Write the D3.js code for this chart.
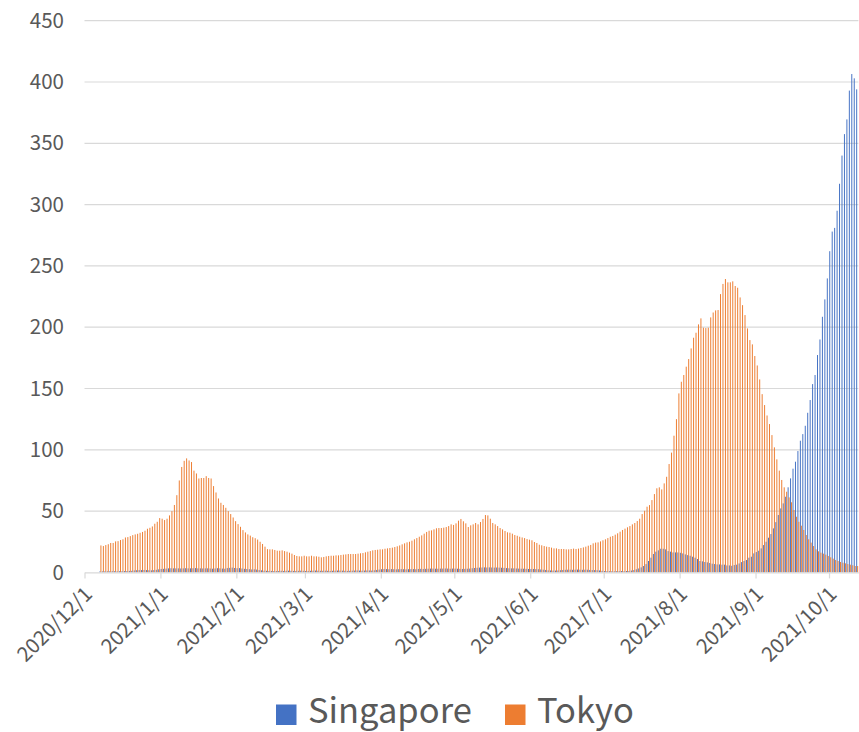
<!DOCTYPE html>
<html>
<head>
<meta charset="utf-8">
<script src="https://cdn.jsdelivr.net/npm/d3@7"></script>
<style>
  body { margin: 0; background: #fff; }
  svg text { font-family: "Noto Sans CJK JP", "Noto Sans", sans-serif; fill: #595959; }
</style>
</head>
<body>
<div class="chart"></div>
<script>
//日期范围 (每天一个类别)
let startDate = '2020-12-01'
let endDate = '2021-10-12'
let seriesNames = ['Singapore', 'Tokyo']
let seriesColors = ['#4472C4', '#ED7D31']
let yTicks = [0, 50, 100, 150, 200, 250, 300, 350, 400, 450]
let xTickLabels = ['2020/12/1', '2021/1/1', '2021/2/1', '2021/3/1', '2021/4/1', '2021/5/1',
  '2021/6/1', '2021/7/1', '2021/8/1', '2021/9/1', '2021/10/1']

//Singapore, 12/1 起
let singapore = [null, null, null, null, null, null,
  0.8, 0.8, 0.9, 0.9, 0.9, 1.0, 1.0, 0.9, 0.9, 1.0,
  1.1, 1.1, 1.2, 1.3, 1.6, 1.8, 1.9, 1.9, 2.0, 1.9,
  1.8, 1.7, 1.9, 2.1, 2.5, 2.8, 2.9, 3.1, 3.3, 3.4,
  3.3, 3.3, 3.3, 3.2, 3.3, 3.4, 3.3, 3.3, 3.4, 3.5,
  3.3, 3.3, 3.2, 3.3, 3.3, 3.2, 3.0, 3.2, 3.4, 3.3,
  3.1, 3.0, 3.5, 3.7, 3.9, 3.6, 3.4, 3.5, 3.2, 2.9,
  2.8, 2.6, 2.4, 2.5, 2.3, 1.9, 1.7, 1.4, 1.3, 1.2,
  1.2, 1.1, 1.1, 1.2, 1.3, 1.2, 1.3, 1.4, 1.3, 1.2,
  1.2, 1.3, 1.4, 1.3, 1.2, 1.2, 1.3, 1.4, 1.5, 1.4,
  1.3, 1.3, 1.4, 1.3, 1.2, 1.3, 1.4, 1.5, 1.5, 1.4,
  1.3, 1.2, 1.3, 1.4, 1.5, 1.6, 1.5, 1.4, 1.5, 1.6,
  1.6, 1.5, 1.7, 2.0, 2.3, 2.6, 2.8, 2.7, 2.6, 2.7,
  2.6, 2.5, 2.6, 2.7, 2.6, 2.5, 2.6, 2.7, 2.7, 2.6,
  2.8, 2.9, 2.8, 2.9, 3.0, 3.1, 3.1, 3.0, 3.0, 3.1,
  3.1, 3.2, 3.1, 3.0, 3.1, 3.1, 3.0, 2.9, 2.8, 2.9,
  3.0, 3.1, 3.4, 3.6, 3.8, 3.9, 4.0, 4.1, 4.0, 4.1,
  4.0, 3.9, 4.0, 3.9, 3.8, 3.7, 3.5, 3.4, 3.3, 3.3,
  3.2, 3.1, 3.0, 3.0, 2.9, 2.8, 2.8, 2.8, 2.7, 2.6,
  2.4, 2.2, 2.0, 1.7, 1.6, 1.5, 1.5, 1.6, 1.8, 2.0,
  2.1, 2.2, 2.2, 2.1, 2.2, 2.3, 2.2, 2.1, 2.2, 2.2,
  2.0, 1.9, 1.9, 1.8, 1.6, 1.3, 1.1, 1.0, 1.0, 0.9,
  0.9, 1.0, 1.0, 1.1, 1.0, 1.1, 1.2, 1.5, 1.9, 2.5,
  3.2, 4.1, 5.2, 6.8, 9.3, 12, 15, 16.9, 18, 19.3,
  19.3, 18.8, 17.4, 16.9, 16.3, 16.3, 16.3, 16, 15.5, 14.7,
  14.1, 13.6, 12.8, 12, 10.9, 9.3, 9, 8.5, 8.2, 7.7,
  7.1, 6.8, 6.5, 6.5, 6.3, 6.3, 5.7, 5.7, 5.4, 6,
  6.3, 7.3, 8.4, 9.3, 10.1, 12, 12.8, 15.5, 16.6, 17.7,
  19.6, 22.3, 25, 28.3, 31.3, 35.9, 41, 46.8, 52.2, 56.3,
  61.7, 69.4, 76.7, 84.6, 90.3, 99, 107.4, 112.8, 119.6, 130.2,
  140.6, 153.6, 161, 177.3, 190, 208.5, 222.7, 239.8, 262, 278,
  281, 295, 317, 340, 357.5, 369.5, 393, 406.5, 403, 394]

//Tokyo, 12/1 起
let tokyo = [null, null, null, null, null, null,
  22, 21.5, 22.3, 23, 24, 24, 25.3, 25.5, 26.4, 27,
  28.5, 28.8, 29.6, 30.4, 31, 31.5, 32.3, 33, 34, 35.6,
  36.4, 37.5, 39.7, 41.3, 44.3, 43.8, 42.7, 43.8, 46.5, 50,
  55, 63, 75, 86, 91, 93, 91.3, 90, 83, 80.7,
  76.6, 77, 77, 78.5, 77, 76.6, 70.4, 65.2, 60.3, 56.8,
  55, 52.7, 50, 47.6, 44.8, 41.8, 39.4, 37.2, 34.5, 32.6,
  31, 30, 28.7, 27.9, 26.8, 25, 23.2, 21, 19, 18.8,
  18.8, 18.3, 17.7, 17.7, 18, 17.4, 16.9, 16.1, 15.3, 14.2,
  13.4, 13.1, 13.1, 13.6, 13.1, 13.1, 13.6, 13.1, 13.1, 12.8,
  12.3, 12.6, 13.1, 13.4, 13.6, 13.6, 13.9, 13.9, 14.2, 14.5,
  14.7, 15, 15, 15, 15, 15.3, 15.6, 15.8, 16.4, 16.9,
  17.4, 18, 18.3, 18.5, 18.8, 18.8, 19.3, 19.6, 19.9, 20.2,
  20.7, 21.3, 22, 22.9, 23.7, 24.5, 25, 25.9, 27, 28,
  29.1, 30.2, 31.6, 33, 34, 34.3, 35.1, 36, 36.2, 36.2,
  36.5, 37, 37.8, 39.2, 38.7, 40, 42.2, 43.6, 41.7, 40,
  37, 38.4, 39.2, 40.3, 39.2, 41.1, 43.6, 46.8, 46.5, 43.8,
  40.3, 39.2, 37.8, 36.2, 35.1, 33.8, 32.7, 32.4, 31.6, 30.5,
  29.9, 29.1, 28.5, 28, 27.2, 26.7, 26.2, 24.8, 24, 22.6,
  22.1, 21.5, 21, 20.7, 20.2, 19.6, 19.6, 19.1, 19.1, 19.1,
  18.8, 18.8, 19.1, 19.4, 19.1, 19.4, 19.9, 20.4, 21, 21.8,
  22.4, 23.7, 24.3, 24.5, 25.3, 26.2, 27, 28, 29.1, 29.7,
  30.8, 31.9, 33.2, 34.6, 35.7, 36.8, 37.8, 39.2, 40.3, 41.9,
  43.8, 47.6, 50.3, 53.6, 54.9, 59, 63.9, 68.6, 69.4, 67.7,
  72.6, 78, 88.4, 97.7, 111.5, 125, 146, 155.5, 161, 167.8,
  174, 182.7, 191.4, 195.5, 202.3, 207.2, 199.6, 199.3, 199.6, 208,
  212, 213.7, 214, 227, 235.3, 239.3, 236.6, 236.6, 237.4, 233.6,
  232.2, 224.3, 218, 209.9, 199, 189.5, 186, 176.5, 168.8, 157.4,
  145.4, 136.5, 128, 121, 112, 102, 92.2, 83, 75.4, 69.4,
  65.8, 61.2, 57.2, 50.9, 45.4, 41.3, 38.1, 34.6, 30.5, 27,
  24.3, 21.5, 18.8, 17.2, 16.1, 15.3, 14.5, 13.4, 12.3, 11.2,
  10.1, 9.3, 8.5, 7.9, 7.4, 6.8, 6.3, 5.8, 5.2, 5.2]

//图表样式
let chartStyle = {
  w: 859,
  h: 732,
  left: 84.5,
  right: 858.4,
  top: 20.7,
  bottom: 572.4,
  gridColor: '#D9D9D9'
}

let parseDay = d3.timeParse('%Y-%m-%d')
let parseLabel = d3.timeParse('%Y/%m/%d')
let days = d3.timeDay.range(parseDay(startDate), d3.timeDay.offset(parseDay(endDate), 1))
let values = [singapore, tokyo]

let svg = d3.select('.chart')
  .append('svg')
  .attr('width', chartStyle.w)
  .attr('height', chartStyle.h)

//scale
let xTime = d3.scaleTime()
  .domain([days[0], d3.timeDay.offset(days[days.length - 1], 1)])
  .range([chartStyle.left, chartStyle.right])
let xBand = d3.scaleBand()
  .domain(d3.range(days.length))
  .range([chartStyle.left, chartStyle.right])
  .paddingInner(0.2)
  .paddingOuter(0.1)
let xSub = d3.scaleBand()
  .domain(seriesNames)
  .range([0, xBand.bandwidth()])
let yScale = d3.scaleLinear()
  .domain([0, 450])
  .range([chartStyle.bottom, chartStyle.top])

//网格线
svg.append('g')
  .attr('class', 'grid')
  .selectAll('line')
  .data(yTicks.filter(v => v > 0))
  .enter()
  .append('line')
  .attr('x1', chartStyle.left)
  .attr('x2', chartStyle.right)
  .attr('y1', d => yScale(d))
  .attr('y2', d => yScale(d))
  .attr('stroke', chartStyle.gridColor)
  .attr('stroke-width', 1.2)

//y轴标签
svg.append('g')
  .selectAll('text')
  .data(yTicks)
  .enter()
  .append('text')
  .attr('x', 64)
  .attr('y', d => yScale(d))
  .attr('dy', '0.35em')
  .attr('text-anchor', 'end')
  .attr('font-size', '20.5px')
  .text(d => d)

//柱子
seriesNames.forEach((name, k) => {
  svg.append('g')
    .attr('class', 'series-' + name)
    .selectAll('rect')
    .data(values[k].map((v, i) => ({ i: i, v: v })).filter(d => d.v != null))
    .enter()
    .append('rect')
    .attr('x', d => xBand(d.i) + xSub(name))
    .attr('y', d => yScale(d.v))
    .attr('width', xSub.bandwidth())
    .attr('height', d => yScale(0) - yScale(d.v))
    .attr('fill', seriesColors[k])
})

//x轴
let xAxis = d3.axisBottom(xTime)
  .tickValues(xTickLabels.map(parseLabel))
  .tickSize(6)
  .tickSizeOuter(0)
  .tickFormat('')
let gx = svg.append('g')
  .attr('class', 'x axis')
  .attr('transform', `translate(0, ${chartStyle.bottom})`)
  .call(xAxis)
gx.selectAll('path, line')
  .attr('stroke', chartStyle.gridColor)
  .attr('stroke-width', 1.2)

//x轴标签, 旋转45度
svg.append('g')
  .selectAll('text')
  .data(xTickLabels)
  .enter()
  .append('text')
  .attr('text-anchor', 'end')
  .attr('font-size', '20.5px')
  .attr('transform', d => `translate(${xTime(parseLabel(d)) + 9}, ${chartStyle.bottom + 23}) rotate(-45)`)
  .text(d => d)

//图例
let legend = svg.append('g')
  .attr('class', 'legend')
let legendX = [276, 505]
seriesNames.forEach((name, k) => {
  legend.append('rect')
    .attr('x', legendX[k])
    .attr('y', 704.5)
    .attr('width', 20.5)
    .attr('height', 20.5)
    .attr('fill', seriesColors[k])
  legend.append('text')
    .attr('x', legendX[k] + 32)
    .attr('y', 722.5)
    .attr('font-size', '34.5px')
    .text(name)
})
</script>
</body>
</html>
